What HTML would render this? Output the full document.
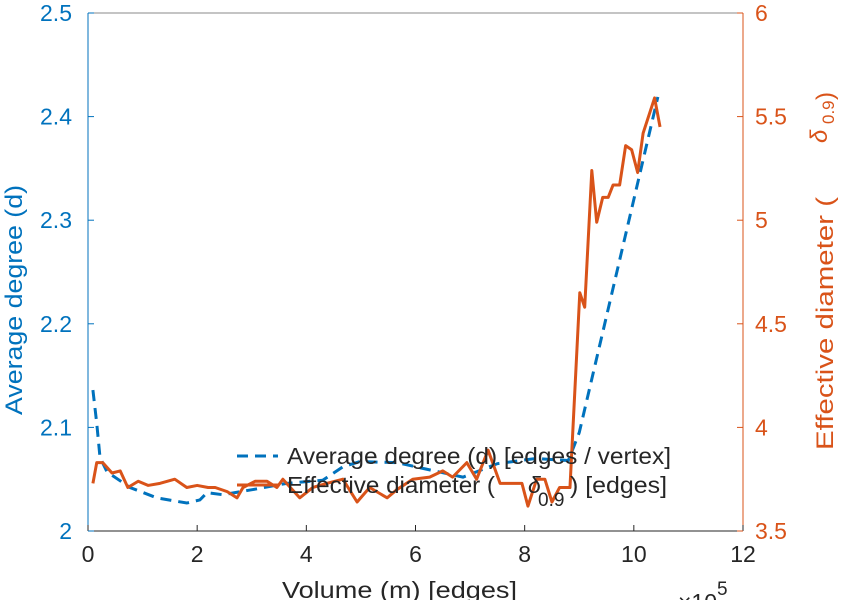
<!DOCTYPE html>
<html><head><meta charset="utf-8"><style>
body{margin:0;background:#fff;position:relative}
svg{display:block;font-family:"Liberation Sans",sans-serif}
</style></head><body>
<svg id="chart" width="847" height="600" viewBox="0 0 847 600"></svg>
<script>
const degX=[0.09,0.16,0.22,0.35,0.77,1.26,1.81,2.05,2.18,2.47,3.02,3.64,4.3,4.67,4.98,5.66,6.26,6.87,7.5,8.2,8.8,9.0,9.72,10.44];
const degY=[2.136,2.104,2.071,2.057,2.042,2.032,2.027,2.03,2.037,2.035,2.04,2.046,2.049,2.062,2.067,2.066,2.059,2.052,2.065,2.07,2.068,2.095,2.257,2.419];
const diaX=[0.09,0.16,0.27,0.44,0.59,0.73,0.92,1.1,1.32,1.59,1.81,2.0,2.2,2.33,2.55,2.73,2.84,3.06,3.28,3.46,3.57,3.88,4.12,4.38,4.67,4.93,5.16,5.48,5.66,5.95,6.26,6.5,6.68,6.94,7.12,7.33,7.55,7.95,8.06,8.22,8.37,8.5,8.64,8.83,9.01,9.1,9.23,9.32,9.43,9.53,9.62,9.74,9.85,9.96,10.07,10.17,10.38,10.48];
const diaY=[3.73,3.83,3.83,3.78,3.79,3.71,3.74,3.72,3.73,3.75,3.71,3.72,3.71,3.71,3.69,3.66,3.71,3.74,3.74,3.71,3.75,3.66,3.71,3.73,3.75,3.64,3.71,3.66,3.70,3.75,3.76,3.79,3.76,3.83,3.75,3.89,3.73,3.73,3.62,3.75,3.75,3.64,3.71,3.71,4.65,4.58,5.24,4.99,5.11,5.11,5.17,5.17,5.36,5.34,5.23,5.42,5.59,5.45];
const xTicks=[0,2,4,6,8,10,12];
const lTicks=[2,2.1,2.2,2.3,2.4,2.5];
const rTicks=[3.5,4,4.5,5,5.5,6];
const L=88,R=743,T=13,B=531;
const sx=v=>L+(v/12)*(R-L);
const sl=v=>B-(v-2)/0.5*(B-T);
const sr=v=>B-(v-3.5)/2.5*(B-T);
const svg=document.getElementById('chart');
const NS='http://www.w3.org/2000/svg';
function mk(tag,attrs,parent){const e=document.createElementNS(NS,tag);for(const k in attrs)e.setAttribute(k,attrs[k]);(parent||svg).appendChild(e);return e;}
const BLUE='#0072BD',ORG='#D95319',INK='#262626';
let a=mk('line',{x1:L,y1:T,x2:R,y2:T,stroke:'#8a8a8a','stroke-width':1});

let p=mk('polyline',{points:degX.map((x,i)=>sx(x)+','+sl(degY[i])).join(' '),fill:'none',stroke:BLUE,'stroke-width':3,'stroke-dasharray':'11,7'});


let q=mk('polyline',{points:diaX.map((x,i)=>sx(x)+','+sr(diaY[i])).join(' '),fill:'none',stroke:ORG,'stroke-width':3,'stroke-linejoin':'round'});


a=mk('line',{x1:L,y1:T,x2:L,y2:B,stroke:BLUE,'stroke-width':1});

a=mk('line',{x1:R,y1:T,x2:R,y2:B,stroke:ORG,'stroke-width':1});

a=mk('line',{x1:L,y1:B,x2:R,y2:B,stroke:INK,'stroke-width':1});

xTicks.forEach(v=>{mk('line',{x1:sx(v),y1:B,x2:sx(v),y2:B-6,stroke:INK});
 const t=mk('text',{x:sx(v),y:B+31,'text-anchor':'middle','font-size':23,fill:INK});t.textContent=v;
 });
lTicks.forEach(v=>{mk('line',{x1:L,y1:sl(v),x2:L+6,y2:sl(v),stroke:BLUE});
 const t=mk('text',{x:L-16,y:sl(v)+8,'text-anchor':'end','font-size':23,fill:BLUE});t.textContent=v;
 });
rTicks.forEach(v=>{mk('line',{x1:R,y1:sr(v),x2:R-6,y2:sr(v),stroke:ORG});
 const t=mk('text',{x:R+12,y:sr(v)+8,'text-anchor':'start','font-size':23,fill:ORG});t.textContent=v;
 });
</script>
<svg style="position:absolute;left:0;top:0" width="847" height="600">
<g font-family="Liberation Sans, sans-serif">
<text x="282" y="598" textLength="235" lengthAdjust="spacingAndGlyphs" font-size="23" fill="#262626">Volume (m) [edges]</text>
<text x="678" y="610" font-size="23" fill="#262626">×10<tspan font-size="19" dy="-15">5</tspan></text>
<text transform="translate(22,415) rotate(-90)" textLength="230" lengthAdjust="spacingAndGlyphs" font-size="24" fill="#0072BD">Average degree (d)</text>
<g fill="#D95319" font-size="24">
<text transform="translate(833,450) rotate(-90)" textLength="253" lengthAdjust="spacingAndGlyphs">Effective diameter (</text>
<text transform="translate(827,143) rotate(-90)" font-style="italic">δ</text>
<text transform="translate(834,124) rotate(-90)" font-size="17">0.9</text>
<text transform="translate(833,100) rotate(-90)">)</text>
</g>
<g>
<line x1="237" y1="456" x2="278" y2="456" stroke="#0072BD" stroke-width="3" stroke-dasharray="11,7"/>
<text x="287" y="464" textLength="384" lengthAdjust="spacingAndGlyphs" font-size="23" fill="#262626">Average degree (d) [edges / vertex]</text>
<line x1="237" y1="485" x2="278" y2="485" stroke="#D95319" stroke-width="3"/>
<g fill="#262626" font-size="23">
<text x="287" y="493" textLength="208" lengthAdjust="spacingAndGlyphs">Effective diameter (</text>
<text x="528" y="493" font-style="italic">δ</text>
<text x="538" y="506" font-size="19">0.9</text>
<text x="570" y="493" textLength="97" lengthAdjust="spacingAndGlyphs">) [edges]</text>
</g>
</g>
</g>
</svg>
</body></html>
